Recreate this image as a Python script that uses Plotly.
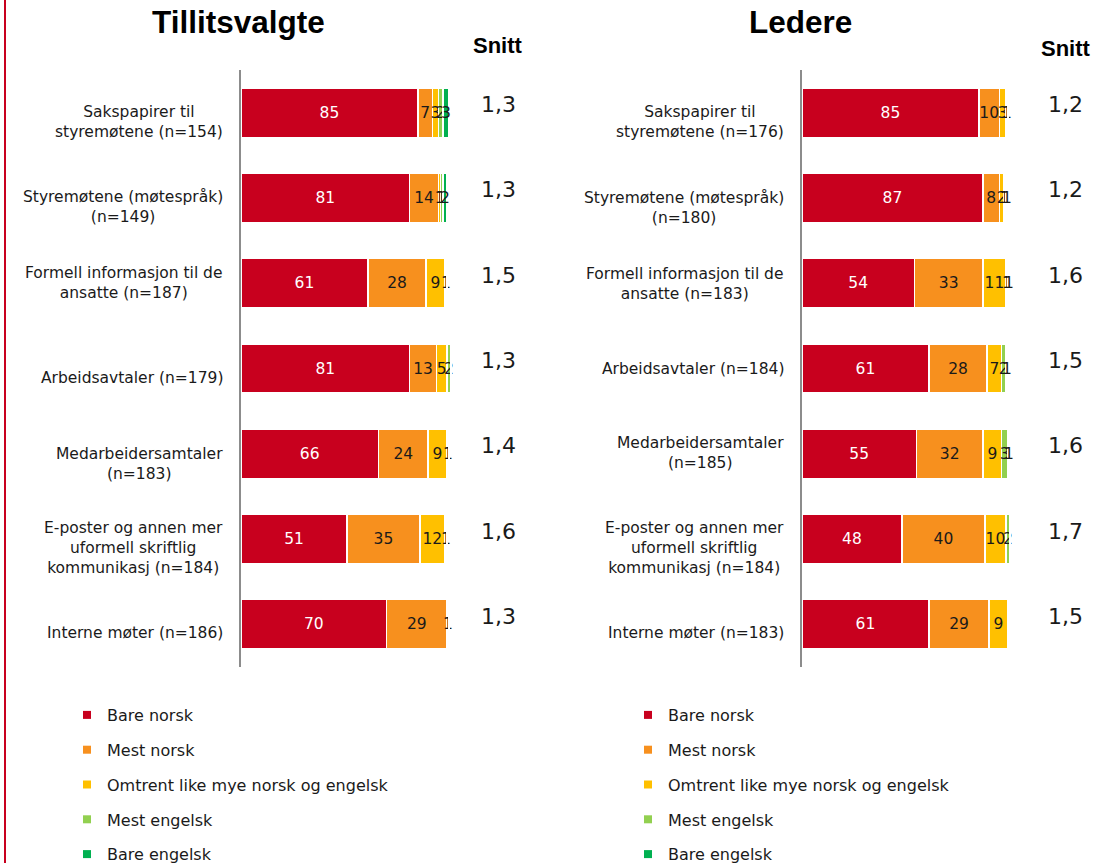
import plotly.graph_objects as go

series_names = ["Bare norsk", "Mest norsk", "Omtrent like mye norsk og engelsk", "Mest engelsk", "Bare engelsk"]
colors = ["#C8001E", "#F7901E", "#FFC000", "#92D050", "#00B050"]

cats_left = ["Sakspapirer til<br>styremøtene (n=154)", "Styremøtene (møtespråk)<br>(n=149)",
             "Formell informasjon til de<br>ansatte (n=187)", "Arbeidsavtaler (n=179)",
             "Medarbeidersamtaler<br>(n=183)", "E-poster og annen mer<br>uformell skriftlig<br>kommunikasj (n=184)",
             "Interne møter (n=186)"]
cats_right = ["Sakspapirer til<br>styremøtene (n=176)", "Styremøtene (møtespråk)<br>(n=180)",
              "Formell informasjon til de<br>ansatte (n=183)", "Arbeidsavtaler (n=184)",
              "Medarbeidersamtaler<br>(n=185)", "E-poster og annen mer<br>uformell skriftlig<br>kommunikasj (n=184)",
              "Interne møter (n=183)"]

left_bare_norsk = [85, 81, 61, 81, 66, 51, 70]
left_mest_norsk = [7, 14, 28, 13, 24, 35, 29]
left_omtrent = [3, 1, 9, 5, 9, 12, 1]
left_mest_engelsk = [2, 1, 1, 2, 1, 1, 0]
left_bare_engelsk = [3, 2, 0, 0, 0, 0, 0]

right_bare_norsk = [85, 87, 54, 61, 55, 48, 61]
right_mest_norsk = [10, 8, 33, 28, 32, 40, 29]
right_omtrent = [3, 2, 11, 7, 9, 10, 9]
right_mest_engelsk = [1, 1, 1, 2, 3, 2, 0]
right_bare_engelsk = [0, 1, 1, 1, 1, 0, 0]

snitt_left = ["1,3", "1,3", "1,5", "1,3", "1,4", "1,6", "1,3"]
snitt_right = ["1,2", "1,2", "1,6", "1,5", "1,6", "1,7", "1,5"]

W, H = 1097, 863
FONT = "DejaVu Sans"
PX = 2.08  # pixels per percent unit

# vertical offsets (px, downward) of the category labels, as placed in the original
label_drop_left = [9, 9, 0, 9, 10, 9, 9]
label_drop_right = [9, 10, 1, 0, -1, 9, 9]

fig = go.Figure()

left_series = [left_bare_norsk, left_mest_norsk, left_omtrent, left_mest_engelsk, left_bare_engelsk]
right_series = [right_bare_norsk, right_mest_norsk, right_omtrent, right_mest_engelsk, right_bare_engelsk]

for series, cats, xa, ya, lg in [
        (left_series, cats_left, "x", "y", "legend"),
        (right_series, cats_right, "x2", "y2", "legend2")]:
    for i, (name, vals) in enumerate(zip(series_names, series)):
        fig.add_trace(go.Bar(
            y=cats, x=vals, name=name, orientation="h",
            xaxis=xa, yaxis=ya, showlegend=False,
            marker=dict(color=colors[i], line=dict(color="white", width=1.5)),
            text=[str(v) if v > 0 else "" for v in vals],
            textposition="inside", insidetextanchor="middle", textangle=0,
            textfont=dict(color="white" if i == 0 else "#1a1a1a", size=15.5, family=FONT),
            constraintext="none", cliponaxis=False,
            hoverinfo="skip",
        ))
    # legend entries (small square markers like the original)
    for i, name in enumerate(series_names):
        fig.add_trace(go.Scatter(
            x=[None], y=[None], mode="markers", name=name, xaxis=xa, yaxis=ya,
            marker=dict(symbol="square", size=8, color=colors[i]),
            legend=lg, legendgroup=f"{lg}_{i}", showlegend=True, hoverinfo="skip",
        ))

y_top = 1 - 70 / H
y_bot = 1 - 667 / H
XMAX = 104

axis_common = dict(range=[0, XMAX], showgrid=False, zeroline=False, showticklabels=False,
                   showline=False, fixedrange=True)
yaxis_common = dict(autorange="reversed", showgrid=False, zeroline=False, showline=True,
                    linecolor="#8c8c8c", linewidth=1.5, ticks="", showticklabels=False,
                    domain=[y_bot, y_top])

legend_common = dict(xanchor="left", yanchor="top",
                     font=dict(size=16, family=FONT, color="#1a1a1a"),
                     tracegroupgap=11, itemwidth=30, bgcolor="rgba(0,0,0,0)")

fig.update_layout(
    autosize=False,
    width=W, height=H, margin=dict(l=0, r=0, t=0, b=0, autoexpand=False),
    paper_bgcolor="white", plot_bgcolor="white",
    barmode="stack", bargap=0.42,
    uniformtext=dict(mode="show", minsize=15.5),
    xaxis=dict(domain=[241 / W, (241 + XMAX * PX) / W], anchor="y", **axis_common),
    xaxis2=dict(domain=[802 / W, (802 + XMAX * PX) / W], anchor="y2", **axis_common),
    yaxis=dict(anchor="x", **yaxis_common),
    yaxis2=dict(anchor="x2", **yaxis_common),
    legend=dict(x=67 / W, y=1 - 698 / H, **legend_common),
    legend2=dict(x=628 / W, y=1 - 698 / H, **legend_common),
    showlegend=True,
)

annotations = [
    dict(text="<b>Tillitsvalgte</b>", x=238 / W, y=1 - 22 / H, xref="paper", yref="paper",
         xanchor="center", yanchor="middle",
         showarrow=False, font=dict(size=31.5, family="Liberation Sans", color="black")),
    dict(text="<b>Ledere</b>", x=800 / W, y=1 - 22 / H, xref="paper", yref="paper",
         xanchor="center", yanchor="middle",
         showarrow=False, font=dict(size=31.5, family="Liberation Sans", color="black")),
    dict(text="<b>Snitt</b>", x=498 / W, y=1 - 46 / H, xref="paper", yref="paper",
         xanchor="center", yanchor="middle",
         showarrow=False, font=dict(size=22, family="Liberation Sans", color="black")),
    dict(text="<b>Snitt</b>", x=1066 / W, y=1 - 48 / H, xref="paper", yref="paper",
         xanchor="center", yanchor="middle",
         showarrow=False, font=dict(size=22, family="Liberation Sans", color="black")),
]
for cats, yref, xr, drops in [(cats_left, "y", 225, label_drop_left),
                               (cats_right, "y2", 786, label_drop_right)]:
    for c, d in zip(cats, drops):
        annotations.append(dict(text=c, x=xr / W, y=c, xref="paper", yref=yref, yshift=-d,
                                xanchor="right", yanchor="middle", align="center",
                                showarrow=False, font=dict(size=15.5, family=FONT, color="#1a1a1a")))
for c, s in zip(cats_left, snitt_left):
    annotations.append(dict(text=s, x=498 / W, y=c, xref="paper", yref="y", yshift=8,
                            xanchor="center", yanchor="middle",
                            showarrow=False, font=dict(size=22, family=FONT, color="#1a1a1a")))
for c, s in zip(cats_right, snitt_right):
    annotations.append(dict(text=s, x=1065 / W, y=c, xref="paper", yref="y2", yshift=8,
                            xanchor="center", yanchor="middle",
                            showarrow=False, font=dict(size=22, family=FONT, color="#1a1a1a")))
fig.update_layout(annotations=annotations)

fig.add_shape(type="line", xref="paper", yref="paper", x0=5 / W, x1=5 / W, y0=0, y1=1,
              line=dict(color="#C8001E", width=2))

post = ("document.body.style.margin='0';"
        "var gd=document.getElementById('{plot_id}');"
        "gd.style.position='absolute';gd.style.top='0px';gd.style.left='0px';")
fig.write_html("out.html", config={"displayModeBar": False, "responsive": False},
               post_script=post)
